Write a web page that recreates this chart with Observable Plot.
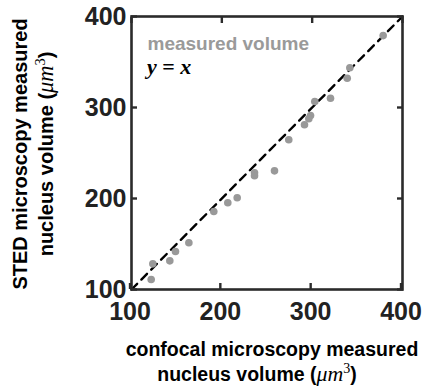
<!DOCTYPE html>
<html>
<head>
<meta charset="utf-8">
<script src="https://cdn.jsdelivr.net/npm/d3@7"></script>
<script src="https://cdn.jsdelivr.net/npm/@observablehq/plot@0.6"></script>
<style>
  html, body { margin: 0; padding: 0; background: #fff; }
  #chart svg { display: block; }
</style>
</head>
<body>
<div id="chart"></div>
<script>
// Data
const confocal = [378.6, 341.7, 338.8, 320.3, 302.9, 298.2, 296.3, 291.5, 274.1, 258.3, 236.2, 236.2, 217.0, 206.6, 191.1, 163.5, 148.7, 142.4, 123.6, 121.8];
const sted     = [379.0, 343.6, 332.2, 310.2, 306.6, 291.2, 287.6, 281.0, 264.5, 230.4, 228.2, 225.0, 200.8, 195.3, 185.7, 151.3, 141.8, 131.5, 128.2, 111.0];
const identityLine = [100, 400];
const tickValues = [100, 200, 300, 400];
const domain = [100, 400];
const legendLabels = ["measured volume", "y = x"];

const points = confocal.map((c, i) => ({confocal: c, sted: sted[i]}));

const W = 422, H = 390;
const mL = 131, mR = 20, mT = 16, mB = 101;
const axisColor = "#2b2b2b";
const font = "'Liberation Sans', Arial, sans-serif";

const plot = Plot.plot({
  width: W,
  height: H,
  marginLeft: mL,
  marginRight: mR,
  marginTop: mT,
  marginBottom: mB,
  style: {fontFamily: font, background: "#fff", overflow: "visible"},
  x: {domain, ticks: tickValues},
  y: {domain, ticks: tickValues},
  marks: [
    Plot.line(identityLine, {x: d => d, y: d => d, stroke: "#000", strokeWidth: 2.4, strokeDasharray: "8,6"}),
    Plot.dot(points, {x: "confocal", y: "sted", r: 3.8, fill: "#999", stroke: "none"}),
    Plot.frame({stroke: axisColor, strokeWidth: 2.6}),
    Plot.axisX(tickValues, {anchor: "bottom", tickSize: -6, tickPadding: 19, dx: -1.5, strokeWidth: 2.4, stroke: axisColor, fill: "#222", fontSize: 25, fontWeight: "bold", label: null}),
    Plot.axisX(tickValues, {anchor: "top", tickSize: -6, strokeWidth: 2.4, stroke: axisColor, tickFormat: () => "", label: null}),
    Plot.axisY(tickValues, {anchor: "left", tickSize: -6, tickPadding: 11, strokeWidth: 2.4, stroke: axisColor, fill: "#222", fontSize: 25, fontWeight: "bold", label: null}),
    Plot.axisY(tickValues, {anchor: "right", tickSize: -6, strokeWidth: 2.4, stroke: axisColor, tickFormat: () => "", label: null}),
    Plot.text([legendLabels[0]], {frameAnchor: "top-left", dx: 16, dy: 20, text: d => d, fill: "#9a9a9a", fontSize: 19, fontWeight: "bold", textAnchor: "start", lineAnchor: "top"})
  ]
});

document.getElementById("chart").appendChild(plot);

// Extra text with mixed styles (math italics), appended as real SVG text
const svg = d3.select(plot);
const serif = "'Liberation Serif', 'DejaVu Serif', serif";

// legend "y = x"
const lg = svg.append("text")
  .attr("x", 147).attr("y", 74)
  .attr("text-anchor", "start")
  .attr("font-family", serif).attr("font-size", 22).attr("font-weight", "bold")
  .attr("fill", "#000");
lg.append("tspan").attr("font-style", "italic").text("y");
lg.append("tspan").text(" = ");
lg.append("tspan").attr("font-style", "italic").text("x");

function titleLine(g, x, y, size, rotate) {
  const t = g.append("text")
    .attr("x", x).attr("y", y)
    .attr("text-anchor", "middle")
    .attr("font-family", font).attr("font-weight", "bold").attr("font-size", size)
    .attr("fill", "#000");
  if (rotate) t.attr("transform", `rotate(-90 ${x} ${y})`);
  return t;
}
function unitLine(g, x, y, size, rotate) {
  const t = titleLine(g, x, y, size, rotate);
  t.append("tspan").text("nucleus volume (");
  t.append("tspan").attr("font-family", serif).attr("font-style", "italic").attr("font-weight", "normal").attr("font-size", size * 1.12).text("μm");
  t.append("tspan").attr("font-family", serif).attr("font-weight", "normal").attr("font-size", size * 0.72).attr("dy", -8).text("3");
  t.append("tspan").attr("dy", 8).text(")");
  return t;
}

// x-axis title
titleLine(svg, 272, 356, 19.5).text("confocal microscopy measured");
unitLine(svg, 257, 381, 19.5, false);

// y-axis title
titleLine(svg, 27, 154, 20, true).text("STED microscopy measured");
unitLine(svg, 53, 154, 20, true);
</script>
</body>
</html>
